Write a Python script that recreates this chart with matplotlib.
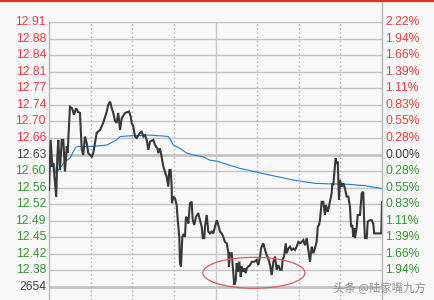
import matplotlib
matplotlib.use("Agg")
import matplotlib.pyplot as plt
from matplotlib.patches import Ellipse
from matplotlib.lines import Line2D

# ---------------- data ----------------
prev_close = 12.63
step_pct = 0.2775  # percent per grid step
left_labels = ["2654", "12.38", "12.42", "12.45", "12.49", "12.52", "12.56", "12.60",
               "12.63", "12.66", "12.70", "12.74", "12.77", "12.81", "12.84", "12.88", "12.91"]
right_labels = ["", "1.94%", "1.66%", "1.39%", "1.11%", "0.83%", "0.55%", "0.28%",
                "0.00%", "0.28%", "0.55%", "0.83%", "1.11%", "1.39%", "1.66%", "1.94%", "2.22%"]

price_min = [0, 1.2, 2.4, 3.1, 5.2, 6.0, 6.7, 7.9, 9.2, 10.3, 11.5, 12.8, 13.5, 13.9, 15.1, 16.6,
             18.0, 19.5, 20.9, 22.3, 23.6, 24.7, 25.9, 27.2, 28.3, 30.8, 31.9, 34.4, 36.8, 39.1,
             41.6, 42.7, 44.0, 45.2, 46.3, 47.6, 48.8, 49.9, 51.2, 52.4, 54.8, 57.7, 58.9, 59.6,
             60.8, 62.0, 63.2, 65.6, 66.8, 68.0, 69.2, 70.4, 71.6, 72.8, 75.2, 76.4, 78.1, 78.8,
             80.0, 81.2, 82.4, 84.8, 86.0, 86.7, 87.7, 88.4, 88.6, 89.6, 90.8, 92.0, 92.8, 93.9,
             94.4, 95.1, 96.1, 96.8, 98.0, 98.7, 99.7, 100.4, 101.6, 102.8, 103.6, 104.7, 105.9,
             107.6, 108.8, 110.1, 110.8, 111.9, 112.4, 113.7, 114.8, 116.0, 117.3, 118.4, 119.6,
             120.9, 122.0, 123.2, 124.5, 125.6, 126.8, 128.1, 129.2, 129.7, 130.4, 131.7, 132.8,
             133.5, 134.6, 135.3, 136.0, 136.4, 137.1, 138.2, 138.9, 140.0, 140.8, 141.8, 142.5,
             143.6, 144.9, 146.1, 148.0, 149.7, 150.8, 152.1, 152.8, 153.7, 154.4, 155.7, 156.9,
             158.0, 159.3, 160.5, 161.7, 162.9, 164.1, 165.3, 166.5, 167.7, 168.4, 169.4, 170.6,
             171.3, 172.5, 173.7, 174.9, 176.1, 177.3, 178.5, 179.7, 180.9, 182.1, 183.3, 184.5,
             185.7, 186.9, 188.1, 189.3, 190.5, 191.7, 192.9, 193.7, 194.6, 195.3, 196.5, 197.7,
             198.9, 199.6, 200.9, 201.8, 202.5, 203.7, 204.2, 204.9, 205.6, 206.6, 207.3, 208.1,
             208.5, 209.0, 209.7, 210.4, 210.9, 212.1, 213.3, 214.5, 215.7, 216.9, 217.7, 218.6,
             219.3, 220.0, 220.5, 221.8, 222.5, 224.1, 225.4, 226.5, 227.2, 227.7, 229.0, 229.7,
             231.3, 232.6, 233.7, 234.4, 239.5, 240.0]
price_val = [12.555, 12.661, 12.604, 12.612, 12.540, 12.625, 12.661, 12.597, 12.661, 12.661,
             12.594, 12.647, 12.633, 12.661, 12.731, 12.728, 12.714, 12.728, 12.720, 12.718,
             12.640, 12.629, 12.668, 12.654, 12.633, 12.625, 12.633, 12.676, 12.682, 12.697,
             12.721, 12.735, 12.742, 12.728, 12.718, 12.701, 12.697, 12.718, 12.682, 12.707,
             12.718, 12.721, 12.710, 12.697, 12.689, 12.668, 12.665, 12.676, 12.678, 12.668,
             12.671, 12.661, 12.640, 12.657, 12.661, 12.650, 12.643, 12.633, 12.643, 12.625,
             12.604, 12.583, 12.562, 12.597, 12.597, 12.562, 12.527, 12.541, 12.537, 12.523,
             12.491, 12.456, 12.400, 12.393, 12.456, 12.460, 12.456, 12.498, 12.495, 12.484,
             12.527, 12.530, 12.491, 12.481, 12.498, 12.506, 12.491, 12.477, 12.453, 12.453,
             12.477, 12.502, 12.467, 12.463, 12.467, 12.463, 12.477, 12.491, 12.481, 12.467,
             12.463, 12.456, 12.445, 12.442, 12.424, 12.393, 12.421, 12.421, 12.379, 12.354,
             12.364, 12.400, 12.382, 12.393, 12.403, 12.371, 12.393, 12.382, 12.389, 12.379,
             12.389, 12.393, 12.396, 12.403, 12.403, 12.407, 12.396, 12.414, 12.431, 12.438,
             12.442, 12.428, 12.417, 12.410, 12.396, 12.375, 12.403, 12.414, 12.386, 12.396,
             12.386, 12.386, 12.407, 12.414, 12.442, 12.421, 12.431, 12.435, 12.428, 12.431,
             12.428, 12.435, 12.445, 12.442, 12.445, 12.449, 12.438, 12.453, 12.428, 12.403,
             12.435, 12.421, 12.432, 12.445, 12.477, 12.481, 12.491, 12.530, 12.530, 12.502,
             12.523, 12.509, 12.520, 12.530, 12.548, 12.569, 12.565, 12.590, 12.622, 12.611,
             12.615, 12.576, 12.534, 12.576, 12.569, 12.562, 12.569, 12.558, 12.541, 12.541,
             12.520, 12.477, 12.481, 12.456, 12.474, 12.453, 12.477, 12.502, 12.502, 12.548,
             12.551, 12.484, 12.453, 12.453, 12.488, 12.491, 12.491, 12.484, 12.463, 12.463,
             12.530]

avg_min = [0, 1.2, 3.8, 4.8, 6.7, 11.5, 15.1, 17.5, 19.2, 21.1, 31.5, 41.6, 48.8, 51.2, 60.8,
           72.8, 82.4, 86.0, 87.7, 89.6, 94.4, 99.2, 104.0, 111.2, 116.0, 120.9, 137.1, 152.1,
           166.5, 175.8, 191.7, 201.1, 215.5, 227.7, 240.0]
avg_val = [12.597, 12.610, 12.610, 12.590, 12.597, 12.615, 12.622, 12.636, 12.645, 12.647,
           12.647, 12.650, 12.661, 12.668, 12.670, 12.671, 12.669, 12.668, 12.661, 12.650,
           12.643, 12.633, 12.629, 12.625, 12.618, 12.616, 12.601, 12.591, 12.582, 12.576,
           12.569, 12.568, 12.567, 12.564, 12.558]

watermark = "头条 @陆家嘴九方"

# ---------------- figure ----------------
W, H = 434, 300
fig = plt.figure(figsize=(W / 100, H / 100), dpi=100)
bg = "#f8f8f8"
fig.patch.set_facecolor(bg)

px_left, px_right, px_top, px_bottom = 49, 382, 22, 300
ax = fig.add_axes([px_left / W, 1 - px_bottom / H, (px_right - px_left) / W, (px_bottom - px_top) / H])
ax.set_facecolor(bg)

ticks = [prev_close * (1 + (k - 8) * step_pct / 100) for k in range(17)]
px_per_step = (154.5 - 22) / 8
price_per_px = (ticks[16] - ticks[8]) / (154.5 - 22)
y_top = ticks[16]
y_bot = ticks[8] - (px_bottom - 154.5) * price_per_px
ax.set_ylim(y_bot, y_top)
ax.set_xlim(0, 240)

for s in ["top", "bottom", "right"]:
    ax.spines[s].set_visible(False)
ax.spines["left"].set_color("#b4b4b4")
ax.spines["left"].set_linewidth(1.0)
ax.set_xticks([])
ax.set_yticks([])

grid_c = "#c4c4c4"
for k, t in enumerate(ticks):
    lw = 2.0 if k in (0, 8) else 1.0
    ax.axhline(t, color=grid_c, lw=lw, zorder=1)

for i in range(1, 8):
    xm = i * 30
    if i == 4:
        ax.axvline(xm, color="#c8c8c8", lw=1.0, zorder=1)
    else:
        ax.axvline(xm, color="#b0b0b0", lw=1.0, ls=(0, (1, 2)), zorder=1)

ax.plot(avg_min, avg_val, color="#1a7fd6", lw=0.8, zorder=3)
ax.plot(price_min, price_val, color="#383838", lw=1.5, zorder=4, solid_joinstyle="miter")

ell = Ellipse((147.7, 12.3796), 73.5, 0.0656, fill=False, edgecolor="#e05a5a", lw=0.9, zorder=5)
ax.add_patch(ell)

red = "#f03c3c"
green = "#2e9a2e"
dark = "#444444"
font = "Liberation Sans"
for k, t in enumerate(ticks):
    if k > 8:
        c = red
    elif k == 8 or k == 0:
        c = dark
    else:
        c = green
    ax.text(-3 / 333 * 240, t, left_labels[k], ha="right", va="center", color=c,
            fontsize=8.7, family=font, clip_on=False)
    if right_labels[k]:
        ax.text(240 + 3 / 333 * 240, t, right_labels[k], ha="left", va="center", color=c,
                fontsize=8.7, family=font, clip_on=False)

# right separator line and top red border
fig.add_artist(Line2D([px_right / W, px_right / W], [0, 1 - 1.5 / H], color="#b4b4b4", lw=1.0))
fig.add_artist(Line2D([0, 1], [1 - 1.0 / H, 1 - 1.0 / H], color="#e03030", lw=1.6))

fig.text(333 / W, 1 - 287 / H, watermark, ha="left", va="center", color="#8a8a8a",
         fontsize=8.2, family=["Noto Sans CJK SC", "DejaVu Sans"], alpha=0.9)

fig.savefig("out.png", dpi=100, facecolor=fig.get_facecolor())
